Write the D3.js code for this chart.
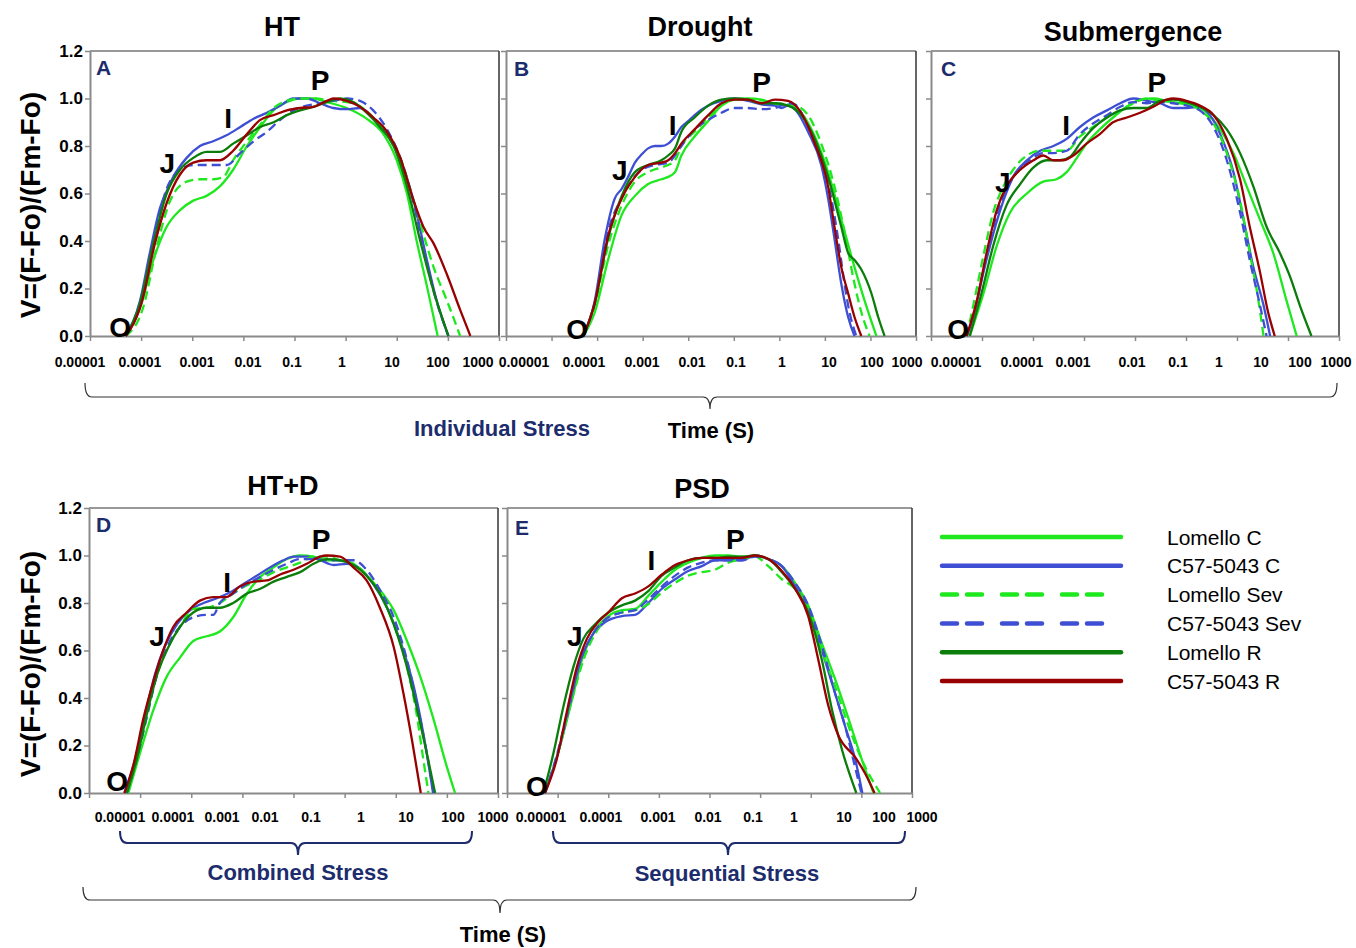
<!doctype html>
<html lang="en">
<head>
<meta charset="utf-8">
<title>OJIP transients under individual, combined and sequential stress</title>
<script src="https://cdnjs.cloudflare.com/ajax/libs/d3/7.8.5/d3.min.js"></script>
<style>
  body { margin: 0; background: #fff; }
  svg text { font-family: "Liberation Sans", Arial, sans-serif; }
</style>
</head>
<body>
<svg id="svg" width="1356" height="948"></svg>
<script>
// ---- data: [log10 time (s), V] ----

// HT
var htLomelloC = [[-4.30,0],[-4.02,0.12],[-3.76,0.32],[-3.50,0.46],[-3.24,0.53],[-2.98,0.57],[-2.72,0.59],[-2.46,0.63],[-2.20,0.70],[-1.93,0.80],[-1.67,0.88],[-1.41,0.95],[-1.15,0.985],[-0.89,1.0],[-0.63,1.0],[-0.37,0.985],[0.02,0.96],[0.41,0.915],[0.74,0.85],[1.00,0.74],[1.20,0.60],[1.39,0.40],[1.59,0.21],[1.80,0]];
var htC57C = [[-4.30,0],[-4.02,0.15],[-3.83,0.35],[-3.63,0.54],[-3.50,0.61],[-3.37,0.67],[-3.11,0.75],[-2.85,0.80],[-2.59,0.82],[-2.33,0.845],[-2.06,0.88],[-1.80,0.915],[-1.54,0.94],[-1.28,0.97],[-1.02,1.0],[-0.76,1.0],[-0.50,0.98],[-0.24,0.96],[0.02,0.955],[0.28,0.96],[0.54,0.92],[0.81,0.85],[1.07,0.74],[1.33,0.57],[1.59,0.32],[1.78,0.15],[2.01,0]];
var htLomelloSev = [[-4.30,0],[-3.96,0.12],[-3.70,0.37],[-3.43,0.57],[-3.11,0.65],[-2.85,0.66],[-2.59,0.66],[-2.39,0.67],[-2.20,0.74],[-1.93,0.82],[-1.67,0.89],[-1.41,0.96],[-1.15,0.99],[-0.89,1.0],[-0.63,1.0],[-0.24,0.99],[0.15,0.98],[0.54,0.92],[0.81,0.85],[1.07,0.75],[1.33,0.57],[1.52,0.43],[1.72,0.29],[1.98,0.15],[2.24,0]];
var htC57Sev = [[-4.30,0],[-3.99,0.15],[-3.76,0.40],[-3.50,0.62],[-3.24,0.70],[-2.98,0.72],[-2.72,0.72],[-2.46,0.72],[-2.33,0.72],[-2.06,0.77],[-1.80,0.82],[-1.54,0.86],[-1.28,0.91],[-1.02,0.95],[-0.76,0.97],[-0.50,0.98],[-0.24,0.99],[0.02,1.0],[0.28,0.99],[0.54,0.95],[0.81,0.87],[1.07,0.75],[1.33,0.56],[1.52,0.37],[1.72,0.19],[2.01,0]];
var htLomelloR = [[-4.30,0],[-4.02,0.14],[-3.76,0.39],[-3.50,0.60],[-3.24,0.70],[-2.98,0.75],[-2.72,0.775],[-2.46,0.775],[-2.20,0.81],[-1.93,0.845],[-1.67,0.88],[-1.41,0.90],[-1.15,0.93],[-0.89,0.95],[-0.63,0.965],[-0.37,0.985],[-0.11,1.0],[0.15,0.985],[0.41,0.94],[0.67,0.88],[0.94,0.80],[1.20,0.63],[1.46,0.40],[1.72,0.19],[2.01,0]];
var htC57R = [[-4.30,0],[-3.99,0.14],[-3.73,0.39],[-3.50,0.56],[-3.24,0.68],[-2.98,0.73],[-2.72,0.74],[-2.46,0.74],[-2.20,0.78],[-1.93,0.85],[-1.67,0.91],[-1.41,0.93],[-1.15,0.95],[-0.89,0.96],[-0.63,0.965],[-0.37,0.99],[-0.24,1.0],[0.02,0.99],[0.28,0.965],[0.54,0.92],[0.81,0.86],[1.07,0.75],[1.33,0.57],[1.52,0.46],[1.72,0.39],[1.98,0.26],[2.24,0.11],[2.44,0]];

// Drought
var drLomelloC = [[-4.30,0],[-4.05,0.10],[-3.76,0.32],[-3.46,0.51],[-3.17,0.59],[-2.88,0.64],[-2.59,0.66],[-2.44,0.67],[-2.29,0.69],[-2.15,0.76],[-1.86,0.84],[-1.56,0.905],[-1.27,0.97],[-0.98,0.995],[-0.69,1.0],[-0.39,0.995],[-0.10,0.975],[0.19,0.97],[0.48,0.94],[0.78,0.84],[1.07,0.69],[1.36,0.49],[1.65,0.29],[1.87,0.15],[2.13,0]];
var drC57C = [[-4.30,0],[-4.05,0.15],[-3.83,0.41],[-3.61,0.58],[-3.46,0.62],[-3.32,0.67],[-3.17,0.73],[-3.02,0.765],[-2.88,0.79],[-2.73,0.80],[-2.59,0.80],[-2.44,0.81],[-2.29,0.84],[-2.15,0.88],[-2.00,0.905],[-1.86,0.93],[-1.56,0.97],[-1.27,0.99],[-0.98,1.0],[-0.69,0.99],[-0.39,0.975],[-0.10,0.97],[0.05,0.96],[0.19,0.97],[0.34,0.955],[0.63,0.86],[0.92,0.72],[1.07,0.58],[1.21,0.41],[1.36,0.22],[1.51,0.08],[1.65,0]];
var drLomelloSev = [[-4.30,0],[-4.05,0.13],[-3.76,0.38],[-3.46,0.55],[-3.17,0.65],[-2.88,0.69],[-2.59,0.71],[-2.44,0.72],[-2.29,0.74],[-2.15,0.80],[-1.86,0.86],[-1.56,0.92],[-1.27,0.97],[-0.98,0.995],[-0.54,0.995],[-0.10,0.98],[0.34,0.97],[0.63,0.93],[0.92,0.81],[1.21,0.63],[1.43,0.44],[1.65,0.22],[1.80,0.10],[1.98,0]];
var drC57Sev = [[-4.30,0],[-4.05,0.14],[-3.76,0.44],[-3.46,0.58],[-3.32,0.63],[-3.02,0.70],[-2.73,0.72],[-2.44,0.73],[-2.15,0.80],[-1.86,0.87],[-1.56,0.91],[-1.27,0.94],[-0.98,0.96],[-0.69,0.96],[-0.39,0.955],[-0.10,0.96],[0.19,0.98],[0.34,0.975],[0.63,0.88],[0.92,0.74],[1.14,0.58],[1.29,0.41],[1.43,0.22],[1.54,0.10],[1.69,0]];
var drLomelloR = [[-4.30,0],[-4.05,0.14],[-3.76,0.41],[-3.46,0.59],[-3.17,0.69],[-2.88,0.72],[-2.59,0.74],[-2.44,0.76],[-2.29,0.79],[-2.15,0.86],[-1.86,0.92],[-1.56,0.97],[-1.27,0.995],[-0.98,1.0],[-0.69,0.995],[-0.39,0.98],[-0.10,0.98],[0.19,0.97],[0.48,0.93],[0.78,0.83],[1.07,0.67],[1.36,0.46],[1.51,0.35],[1.65,0.32],[1.80,0.28],[2.02,0.18],[2.17,0.08],[2.31,0]];
var drC57R = [[-4.30,0],[-4.05,0.14],[-3.76,0.42],[-3.46,0.58],[-3.17,0.67],[-2.88,0.72],[-2.59,0.73],[-2.44,0.74],[-2.29,0.77],[-2.15,0.81],[-1.86,0.87],[-1.56,0.93],[-1.27,0.98],[-0.98,0.995],[-0.69,0.995],[-0.39,0.98],[-0.10,0.995],[0.19,0.99],[0.48,0.94],[0.78,0.81],[1.07,0.63],[1.21,0.46],[1.36,0.29],[1.51,0.18],[1.65,0.08],[1.80,0]];

// Submergence
var suLomelloC = [[-4.24,0],[-3.97,0.18],[-3.71,0.38],[-3.45,0.52],[-3.12,0.60],[-2.80,0.65],[-2.54,0.66],[-2.34,0.69],[-2.14,0.75],[-1.95,0.81],[-1.69,0.87],[-1.43,0.92],[-1.16,0.965],[-0.90,0.995],[-0.64,1.0],[-0.38,0.99],[-0.12,0.98],[0.14,0.97],[0.41,0.94],[0.67,0.87],[0.93,0.77],[1.19,0.63],[1.45,0.49],[1.71,0.35],[1.97,0.15],[2.17,0]];
var suC57C = [[-4.30,0],[-4.17,0.08],[-3.97,0.27],[-3.78,0.43],[-3.58,0.57],[-3.39,0.67],[-3.12,0.74],[-2.86,0.78],[-2.60,0.80],[-2.34,0.83],[-2.08,0.88],[-1.82,0.92],[-1.55,0.95],[-1.29,0.98],[-1.03,1.0],[-0.77,0.99],[-0.51,0.98],[-0.25,0.96],[0.01,0.96],[0.27,0.965],[0.47,0.93],[0.67,0.85],[0.93,0.69],[1.12,0.50],[1.32,0.29],[1.52,0.13],[1.65,0]];
var suLomelloSev = [[-4.30,0],[-4.17,0.13],[-3.97,0.34],[-3.78,0.52],[-3.58,0.63],[-3.39,0.70],[-3.12,0.76],[-2.86,0.78],[-2.60,0.78],[-2.34,0.78],[-2.08,0.84],[-1.82,0.88],[-1.55,0.92],[-1.29,0.95],[-1.03,0.98],[-0.77,1.0],[-0.51,0.99],[-0.25,0.985],[0.01,0.98],[0.27,0.95],[0.54,0.895],[0.80,0.77],[1.06,0.57],[1.25,0.35],[1.42,0.15],[1.52,0]];
var suC57Sev = [[-4.30,0],[-4.14,0.11],[-3.94,0.31],[-3.75,0.48],[-3.55,0.60],[-3.32,0.69],[-3.06,0.74],[-2.80,0.77],[-2.60,0.77],[-2.34,0.78],[-2.08,0.85],[-1.82,0.895],[-1.55,0.93],[-1.29,0.965],[-1.03,0.985],[-0.77,0.98],[-0.51,0.985],[-0.25,0.98],[0.01,0.97],[0.27,0.95],[0.54,0.88],[0.80,0.74],[1.06,0.52],[1.25,0.32],[1.45,0.13],[1.58,0]];
var suLomelloR = [[-4.24,0],[-4.01,0.18],[-3.78,0.38],[-3.52,0.55],[-3.25,0.64],[-2.99,0.71],[-2.73,0.74],[-2.47,0.74],[-2.27,0.755],[-2.08,0.81],[-1.82,0.875],[-1.55,0.92],[-1.29,0.95],[-1.03,0.96],[-0.77,0.96],[-0.51,0.99],[-0.25,0.995],[0.01,0.985],[0.27,0.965],[0.54,0.93],[0.80,0.87],[1.06,0.77],[1.32,0.63],[1.58,0.46],[1.84,0.35],[2.04,0.25],[2.23,0.13],[2.46,0]];
var suC57R = [[-4.30,0],[-4.10,0.15],[-3.91,0.35],[-3.71,0.53],[-3.52,0.63],[-3.25,0.70],[-2.99,0.74],[-2.80,0.76],[-2.60,0.74],[-2.41,0.74],[-2.21,0.76],[-1.95,0.81],[-1.69,0.85],[-1.43,0.90],[-1.16,0.92],[-0.90,0.94],[-0.64,0.965],[-0.38,0.995],[-0.25,1.0],[0.01,0.99],[0.27,0.97],[0.54,0.93],[0.80,0.83],[1.06,0.66],[1.25,0.46],[1.45,0.27],[1.61,0.10],[1.74,0]];

// HT+D
var hdLomelloC = [[-4.23,0],[-4.00,0.17],[-3.74,0.35],[-3.48,0.49],[-3.22,0.57],[-2.96,0.64],[-2.70,0.66],[-2.44,0.68],[-2.18,0.74],[-1.91,0.84],[-1.65,0.91],[-1.39,0.95],[-1.13,0.985],[-0.87,1.0],[-0.61,0.995],[-0.35,0.98],[-0.09,0.98],[0.17,0.965],[0.43,0.915],[0.69,0.855],[0.96,0.77],[1.22,0.64],[1.48,0.49],[1.74,0.31],[2.00,0.11],[2.16,0]];
var hdC57C = [[-4.30,0],[-4.10,0.14],[-3.90,0.33],[-3.71,0.50],[-3.51,0.62],[-3.28,0.71],[-3.02,0.77],[-2.76,0.80],[-2.50,0.82],[-2.24,0.845],[-1.98,0.88],[-1.72,0.915],[-1.46,0.95],[-1.20,0.98],[-1.00,0.995],[-0.74,0.995],[-0.48,0.98],[-0.22,0.96],[0.04,0.965],[0.30,0.945],[0.56,0.88],[0.83,0.78],[1.09,0.64],[1.35,0.45],[1.54,0.25],[1.73,0]];
var hdLomelloSev = [[-4.26,0],[-4.07,0.14],[-3.87,0.32],[-3.68,0.49],[-3.48,0.60],[-3.22,0.70],[-2.96,0.775],[-2.70,0.78],[-2.44,0.80],[-2.18,0.84],[-1.91,0.875],[-1.65,0.90],[-1.39,0.93],[-1.13,0.95],[-0.87,0.97],[-0.61,0.995],[-0.35,0.995],[-0.09,0.98],[0.17,0.965],[0.43,0.92],[0.69,0.84],[0.96,0.71],[1.22,0.53],[1.41,0.33],[1.54,0.14],[1.64,0]];
var hdC57Sev = [[-4.26,0],[-4.07,0.14],[-3.87,0.32],[-3.68,0.49],[-3.48,0.61],[-3.22,0.70],[-2.96,0.74],[-2.70,0.75],[-2.57,0.75],[-2.44,0.80],[-2.18,0.84],[-1.91,0.88],[-1.65,0.91],[-1.39,0.94],[-1.13,0.965],[-0.87,0.985],[-0.61,0.985],[-0.35,0.98],[-0.09,0.98],[0.17,0.98],[0.43,0.94],[0.69,0.855],[0.96,0.74],[1.22,0.56],[1.41,0.38],[1.61,0.165],[1.74,0]];
var hdLomelloR = [[-4.26,0],[-4.07,0.14],[-3.87,0.33],[-3.68,0.49],[-3.48,0.60],[-3.22,0.70],[-2.96,0.76],[-2.70,0.78],[-2.44,0.78],[-2.18,0.80],[-1.91,0.84],[-1.65,0.86],[-1.39,0.89],[-1.13,0.91],[-0.87,0.93],[-0.61,0.965],[-0.35,0.985],[-0.09,0.98],[0.17,0.96],[0.43,0.915],[0.69,0.84],[0.96,0.71],[1.22,0.53],[1.41,0.36],[1.61,0.165],[1.77,0]];
var hdC57R = [[-4.31,0],[-4.13,0.12],[-3.94,0.31],[-3.74,0.47],[-3.55,0.60],[-3.35,0.70],[-3.09,0.76],[-2.83,0.81],[-2.57,0.825],[-2.31,0.825],[-2.05,0.87],[-1.78,0.89],[-1.52,0.895],[-1.26,0.92],[-1.00,0.94],[-0.74,0.965],[-0.48,0.995],[-0.35,1.0],[-0.09,0.995],[0.17,0.95],[0.43,0.895],[0.69,0.78],[0.96,0.615],[1.15,0.42],[1.32,0.22],[1.49,0]];

// PSD
var psLomelloC = [[-4.25,0],[-3.99,0.17],[-3.72,0.39],[-3.52,0.56],[-3.29,0.675],[-3.00,0.745],[-2.73,0.77],[-2.47,0.775],[-2.21,0.83],[-1.94,0.89],[-1.68,0.94],[-1.42,0.97],[-1.15,0.99],[-0.89,1.0],[-0.63,1.0],[-0.36,0.995],[-0.10,1.0],[0.16,0.985],[0.43,0.955],[0.69,0.885],[0.95,0.79],[1.22,0.63],[1.48,0.48],[1.75,0.31],[2.01,0.14],[2.24,0]];
var psC57C = [[-4.25,0],[-3.99,0.17],[-3.75,0.38],[-3.56,0.55],[-3.33,0.66],[-3.06,0.72],[-2.73,0.745],[-2.47,0.75],[-2.21,0.80],[-1.94,0.86],[-1.68,0.90],[-1.42,0.935],[-1.15,0.955],[-0.89,0.98],[-0.63,0.98],[-0.36,0.98],[-0.10,1.0],[0.16,0.985],[0.43,0.955],[0.69,0.87],[0.95,0.775],[1.22,0.60],[1.48,0.42],[1.68,0.28],[1.88,0.14],[2.02,0]];
var psLomelloSev = [[-4.25,0],[-3.99,0.17],[-3.72,0.39],[-3.49,0.56],[-3.26,0.67],[-3.00,0.74],[-2.73,0.76],[-2.47,0.77],[-2.21,0.795],[-1.94,0.845],[-1.68,0.885],[-1.42,0.915],[-1.15,0.93],[-0.89,0.94],[-0.63,0.97],[-0.36,0.985],[-0.10,0.995],[0.16,0.955],[0.43,0.90],[0.69,0.86],[0.95,0.775],[1.22,0.60],[1.48,0.45],[1.75,0.28],[2.01,0.14],[2.37,0]];
var psC57Sev = [[-4.25,0],[-3.99,0.18],[-3.75,0.39],[-3.56,0.55],[-3.33,0.66],[-3.06,0.73],[-2.73,0.76],[-2.47,0.77],[-2.21,0.815],[-1.94,0.87],[-1.68,0.915],[-1.42,0.95],[-1.15,0.97],[-0.89,0.98],[-0.63,0.98],[-0.36,0.98],[-0.10,0.995],[0.16,0.985],[0.43,0.955],[0.69,0.885],[0.95,0.79],[1.22,0.62],[1.48,0.42],[1.68,0.28],[1.84,0.14],[2.00,0]];
var psLomelloR = [[-4.28,0],[-4.08,0.17],[-3.89,0.36],[-3.69,0.53],[-3.49,0.65],[-3.26,0.71],[-3.00,0.76],[-2.73,0.79],[-2.47,0.81],[-2.21,0.85],[-1.94,0.915],[-1.68,0.95],[-1.42,0.98],[-1.15,0.99],[-0.89,0.99],[-0.63,0.995],[-0.36,0.995],[-0.10,1.0],[0.16,0.985],[0.43,0.93],[0.69,0.86],[0.95,0.76],[1.22,0.56],[1.42,0.35],[1.62,0.18],[1.90,0]];
var psC57R = [[-4.25,0],[-4.02,0.14],[-3.82,0.34],[-3.62,0.53],[-3.42,0.65],[-3.20,0.72],[-3.00,0.76],[-2.73,0.82],[-2.47,0.84],[-2.21,0.87],[-1.94,0.92],[-1.68,0.96],[-1.42,0.98],[-1.15,0.99],[-0.89,0.99],[-0.63,0.99],[-0.36,0.99],[-0.10,1.0],[0.16,0.985],[0.43,0.935],[0.69,0.86],[0.95,0.745],[1.15,0.56],[1.35,0.365],[1.55,0.24],[1.88,0.15],[2.08,0.08],[2.26,0]];

// O, J, I, P markers: [letter, log10 time, V]
var ojipHT = [["O",-4.41,0.04],["J",-3.49,0.73],["I",-2.30,0.92],["P",-0.50,1.08]];
var ojipDrought = [["O",-4.44,0.03],["J",-3.50,0.70],["I",-2.34,0.89],["P",-0.39,1.07]];
var ojipSub = [["O",-4.47,0.03],["J",-3.59,0.65],["I",-2.35,0.89],["P",-0.57,1.07]];
var ojipHTD = [["O",-4.45,0.05],["J",-3.67,0.66],["I",-2.30,0.89],["P",-0.46,1.07]];
var ojipPSD = [["O",-4.41,0.03],["J",-3.66,0.66],["I",-2.15,0.98],["P",-0.49,1.07]];

var seriesNames = ["Lomello C", "C57-5043 C", "Lomello Sev", "C57-5043 Sev", "Lomello R", "C57-5043 R"];
var seriesColors = ["#1ee81e", "#3f4fd4", "#1ee81e", "#3f4fd4", "#0b7d0b", "#990000"];
var seriesDashed = [false, false, true, true, false, false];
var timeLabels = ["0.00001", "0.0001", "0.001", "0.01", "0.1", "1", "10", "100", "1000"];
var yTicks = [0, 0.2, 0.4, 0.6, 0.8, 1.0, 1.2];

// ---- layout (lab = where each time label sits under its panel) ----
var panels = [
  {title: "HT", letter: "A", curves: [htLomelloC, htC57C, htLomelloSev, htC57Sev, htLomelloR, htC57R], ojip: ojipHT,
   x: [90, 499], y: [51, 336], dom: [-5, 3], lab: [80, 140, 197, 248, 292, 342, 392, 438, 478], labY: 367,
   tx: 282, ty: 36, lx: 96, ly: 75, yLab: true},
  {title: "Drought", letter: "B", curves: [drLomelloC, drC57C, drLomelloSev, drC57Sev, drLomelloR, drC57R], ojip: ojipDrought,
   x: [506, 916], y: [51, 336], dom: [-6, 3], lab: [524, 584, 642, 692, 736, 782, 829, 872, 907], labY: 367,
   tx: 700, ty: 36, lx: 514, ly: 76, yLab: false},
  {title: "Submergence", letter: "C", curves: [suLomelloC, suC57C, suLomelloSev, suC57Sev, suLomelloR, suC57R], ojip: ojipSub,
   x: [931, 1339], y: [51, 336], dom: [-5, 3], lab: [956, 1022, 1073, 1132, 1178, 1219, 1261, 1300, 1336], labY: 367,
   tx: 1133, ty: 41, lx: 941, ly: 76, yLab: false},
  {title: "HT+D", letter: "D", curves: [hdLomelloC, hdC57C, hdLomelloSev, hdC57Sev, hdLomelloR, hdC57R], ojip: ojipHTD,
   x: [89, 498], y: [508, 793], dom: [-5, 3], lab: [120, 173, 222, 265, 311, 361, 406, 453, 493], labY: 822,
   tx: 283, ty: 495, lx: 96, ly: 532, yLab: true},
  {title: "PSD", letter: "E", curves: [psLomelloC, psC57C, psLomelloSev, psC57Sev, psLomelloR, psC57R], ojip: ojipPSD,
   x: [507, 912], y: [508, 793], dom: [-5, 3], lab: [541, 601, 658, 708, 753, 794, 844, 884, 922], labY: 822,
   tx: 702, ty: 498, lx: 515, ly: 535, yLab: false}
];

var navy = "#1c2c6c";
var svg = d3.select("#svg");

panels.forEach(function(p) {
  var x = d3.scaleLinear().domain(p.dom).range(p.x);
  var y = d3.scaleLinear().domain([0, 1.2]).range([p.y[1], p.y[0]]);
  var g = svg.append("g");

  // frame: top and right
  g.append("line").attr("x1", p.x[0]).attr("x2", p.x[1]).attr("y1", p.y[0]).attr("y2", p.y[0])
    .attr("stroke", "#333").attr("stroke-width", 1.2);
  g.append("line").attr("x1", p.x[1]).attr("x2", p.x[1]).attr("y1", p.y[0]).attr("y2", p.y[1])
    .attr("stroke", "#333").attr("stroke-width", 1.5);

  // y axis
  var ya = g.append("g").attr("transform", "translate(" + p.x[0] + ",0)")
    .call(d3.axisLeft(y).tickValues(yTicks).tickSize(5).tickSizeOuter(0)
      .tickFormat(p.yLab ? d3.format(".1f") : function() { return ""; }));
  // x axis (decade ticks)
  var xa = g.append("g").attr("transform", "translate(0," + p.y[1] + ")")
    .call(d3.axisBottom(x).tickValues(d3.range(p.dom[0], p.dom[1] + 1)).tickSize(5).tickSizeOuter(0)
      .tickFormat(function() { return ""; }));
  [ya, xa].forEach(function(a) {
    a.select(".domain").attr("stroke", "#8a8a8a").attr("stroke-width", 2);
    a.selectAll(".tick line").attr("stroke", "#8a8a8a").attr("stroke-width", 1.5);
  });
  ya.attr("font-size", 17).attr("font-family", null);
  ya.selectAll(".tick text").attr("font-weight", "bold").attr("fill", "#000").attr("x", -7);

  // time labels
  var lab = d3.scaleOrdinal().domain(timeLabels).range(p.lab);
  g.selectAll(".tl").data(timeLabels).enter().append("text")
    .attr("x", function(d) { return lab(d); }).attr("y", p.labY)
    .attr("text-anchor", "middle").attr("font-size", 14).attr("font-weight", "bold")
    .text(function(d) { return d; });

  // curves
  var line = d3.line().x(function(d) { return x(d[0]); }).y(function(d) { return y(d[1]); })
    .curve(d3.curveMonotoneX);
  p.curves.forEach(function(c, i) {
    g.append("path").attr("d", line(c)).attr("fill", "none")
      .attr("stroke", seriesColors[i]).attr("stroke-width", 2.3)
      .attr("stroke-dasharray", seriesDashed[i] ? "9,5" : null);
  });

  // O J I P
  g.selectAll(".oj").data(p.ojip).enter().append("text")
    .attr("x", function(d) { return x(d[1]); }).attr("y", function(d) { return y(d[2]); })
    .attr("dy", "0.36em").attr("text-anchor", "middle")
    .attr("font-size", 28).attr("font-weight", "bold").text(function(d) { return d[0]; });

  // panel letter and title
  g.append("text").attr("x", p.lx).attr("y", p.ly).attr("font-size", 21).attr("font-weight", "bold")
    .attr("fill", navy).text(p.letter);
  g.append("text").attr("x", p.tx).attr("y", p.ty).attr("text-anchor", "middle")
    .attr("font-size", 27).attr("font-weight", "bold").text(p.title);
});

// y axis titles
[205, 664].forEach(function(cy) {
  svg.append("text").attr("transform", "translate(40," + cy + ") rotate(-90)")
    .attr("text-anchor", "middle").attr("font-size", 28).attr("font-weight", "bold")
    .text("V=(F-Fo)/(Fm-Fo)");
});

// braces
function brace(x0, x1, xm, yTop, yLine, yTip, color, w) {
  var path = "M" + x0 + "," + yTop + " Q" + x0 + "," + yLine + " " + (x0 + 7) + "," + yLine +
    " L" + (xm - 7) + "," + yLine + " Q" + xm + "," + yLine + " " + xm + "," + yTip +
    " Q" + xm + "," + yLine + " " + (xm + 7) + "," + yLine +
    " L" + (x1 - 7) + "," + yLine + " Q" + x1 + "," + yLine + " " + x1 + "," + yTop;
  svg.append("path").attr("d", path).attr("fill", "none").attr("stroke", color).attr("stroke-width", w);
}
brace(85, 1337, 710, 383, 397, 409, "#333", 1.2);
brace(120, 472, 298, 831, 843, 855, navy, 2);
brace(553, 905, 728, 831, 843, 855, navy, 2);
brace(83, 916, 500, 887, 900, 913, "#333", 1.2);

function caption(t, cx, cy, color) {
  svg.append("text").attr("x", cx).attr("y", cy).attr("text-anchor", "middle")
    .attr("font-size", 22).attr("font-weight", "bold").attr("fill", color).text(t);
}
caption("Individual Stress", 502, 436, navy);
caption("Time (S)", 711, 438, "#000");
caption("Combined Stress", 298, 880, navy);
caption("Sequential Stress", 727, 881, navy);
caption("Time (S)", 503, 942, "#000");

// legend
var ly = d3.scalePoint().domain(seriesNames).range([537, 681]);
var leg = svg.append("g").selectAll("g").data(seriesNames).enter().append("g")
  .attr("transform", function(d) { return "translate(0," + ly(d) + ")"; });
leg.append("line").attr("x1", 942).attr("x2", 1121).attr("y1", 0).attr("y2", 0)
  .attr("stroke", function(d, i) { return seriesColors[i]; }).attr("stroke-width", 4.5)
  .attr("stroke-linecap", "round")
  .attr("stroke-dasharray", function(d, i) { return seriesDashed[i] ? "15,10,15,20" : null; });
leg.append("text").attr("x", 1167).attr("y", 0).attr("dy", "0.36em")
  .attr("font-size", 21).text(function(d) { return d; });
</script>
</body>
</html>
